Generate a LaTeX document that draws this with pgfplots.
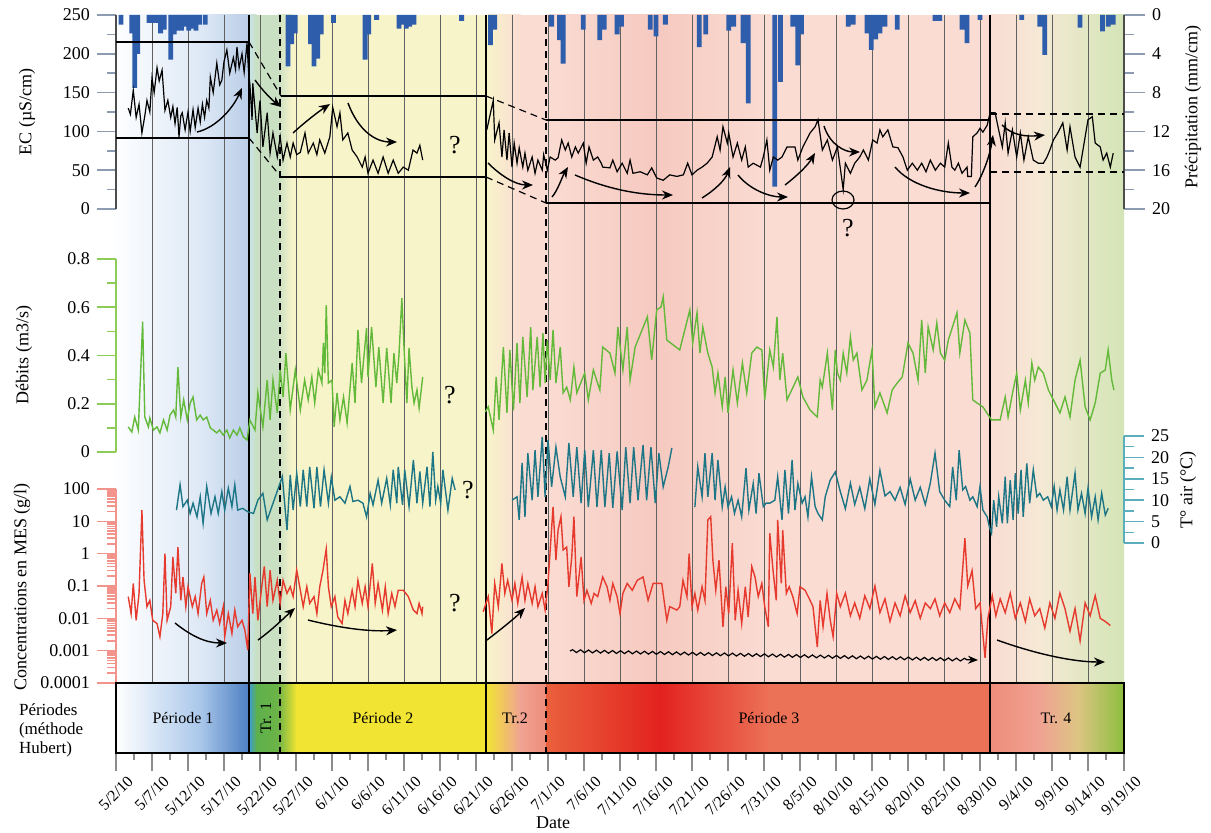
\documentclass[border=0pt]{standalone}
\usepackage{fontspec}
\setmainfont{Liberation Serif}
\usepackage{pgfplots}
\pgfplotsset{compat=1.18}
\usetikzlibrary{arrows.meta,decorations.pathmorphing}

\definecolor{qgreen}{HTML}{63B93A}
\definecolor{tteal}{HTML}{1D7686}
\definecolor{mesred}{HTML}{E63A2E}
\definecolor{rainblue}{HTML}{2E5DAB}
\definecolor{axgreen}{HTML}{8DCC57}
\definecolor{axpink}{HTML}{F2948C}
\definecolor{axteal}{HTML}{5BAEBE}
\definecolor{axgray}{HTML}{8C9BB0}
% plot-area backgrounds
\definecolor{bgA}{HTML}{FDFEFF}
\definecolor{bgB}{HTML}{DCE7F5}
\definecolor{bgC}{HTML}{B8CDE7}
\definecolor{bgD}{HTML}{C8E4EA}
\definecolor{bgE}{HTML}{C9E0C2}
\definecolor{bgY}{HTML}{F8F4CA}
\definecolor{bgP}{HTML}{FADCD3}
\definecolor{bgQ}{HTML}{F6C9BF}
\definecolor{bgR}{HTML}{F5E9D5}
\definecolor{bgG}{HTML}{D3E5B6}
% period bar
\definecolor{pbA}{HTML}{A9C7EA}
\definecolor{pbB}{HTML}{4C7EC2}
\definecolor{pbC}{HTML}{3C9CD2}
\definecolor{pbD}{HTML}{5DB04C}
\definecolor{pbE}{HTML}{6CB447}
\definecolor{pbY}{HTML}{F1E433}
\definecolor{pbS}{HTML}{F0A393}
\definecolor{pbT}{HTML}{EF8C7A}
\definecolor{pbO}{HTML}{E9603C}
\definecolor{pbR}{HTML}{E3221F}
\definecolor{pbL}{HTML}{EC7257}
\definecolor{pbM}{HTML}{DCC583}
\definecolor{pbG}{HTML}{8CBF3E}

\pgfplotsset{
  panel/.style={scale only axis, width=504pt, xmin=0, xmax=140,
    axis x line=none, anchor=south west, tick align=outside,
    major tick length=9.5pt, minor tick length=4.5pt,
    /pgf/number format/assume math mode=true,
    tick label style={font=\fontsize{9}{10}\selectfont}},
}

\begin{document}
\begin{tikzpicture}
\useasboundingbox (0,0) rectangle (605.5pt,416pt);

% ---------- backgrounds (pixel coordinates) ----------
\begin{scope}[x=0.5pt,y=-0.5pt,shift={(0,416pt)}]
  \shade[left color=bgA,right color=bgB] (116,15) rectangle (205.5,683);
  \shade[left color=bgB,right color=bgC] (205,15) rectangle (249.5,683);
  \shade[left color=bgD,right color=bgE] (249,15) rectangle (256.5,683);
  \fill[bgE] (256,15) rectangle (278.5,683);
  \shade[left color=bgE,right color=bgY] (278,15) rectangle (292.5,683);
  \fill[bgY] (292,15) rectangle (486.5,683);
  \shade[left color=bgY,right color=bgP] (486,15) rectangle (520.5,683);
  \fill[bgP] (520,15) rectangle (546.5,683);
  \shade[left color=bgP,right color=bgQ] (546,15) rectangle (655.5,683);
  \shade[left color=bgQ,right color=bgP] (655,15) rectangle (770.5,683);
  \fill[bgP] (770,15) rectangle (990.5,683);
  \shade[left color=bgP,right color=bgR] (990,15) rectangle (1040.5,683);
  \shade[left color=bgR,right color=bgG] (1040,15) rectangle (1124,683);
  % period bar
  \shade[left color=white,right color=pbA] (116,683) rectangle (200.5,753);
  \shade[left color=pbA,right color=pbB] (200,683) rectangle (249.5,753);
  \shade[left color=pbC,right color=pbD] (249,683) rectangle (256.5,753);
  \shade[left color=pbD,right color=pbE] (256,683) rectangle (278.5,753);
  \shade[left color=pbE,right color=pbY] (278,683) rectangle (296.5,753);
  \fill[pbY] (296,683) rectangle (486.5,753);
  \shade[left color=pbY,right color=pbS] (486,683) rectangle (520.5,753);
  \shade[left color=pbS,right color=pbT] (520,683) rectangle (546.5,753);
  \shade[left color=pbO,right color=pbR] (546,683) rectangle (660.5,753);
  \shade[left color=pbR,right color=pbL] (660,683) rectangle (770.5,753);
  \fill[pbL] (770,683) rectangle (990.5,753);
  \shade[left color=pbT,right color=pbS] (990,683) rectangle (1040.5,753);
  \shade[left color=pbS,right color=pbM] (1040,683) rectangle (1078.5,753);
  \shade[left color=pbM,right color=pbG] (1078,683) rectangle (1124,753);
  % 5-day grid lines
  \foreach \d in {5,10,...,135}
    \draw[line width=0.45pt,black!62] ({116+7.2*\d},15) -- ({116+7.2*\d},683);
  % period limits
  \foreach \xx in {249,486,990}
    \draw[line width=0.8pt] (\xx,15) -- (\xx,753);
  \foreach \xx in {280,546}
    \draw[line width=0.7pt,dash pattern=on 3.5pt off 2.5pt] (\xx,15) -- (\xx,753);
\end{scope}

% ---------- precipitation (right, reversed) ----------
\begin{axis}[panel, at={(58pt,311.5pt)}, height=97pt, ymin=0, ymax=20, y dir=reverse,
  axis y line*=right, ytick={0,4,...,20}, minor ytick={2,6,...,18},
  major tick length=10.5pt, minor tick length=5pt,
  y axis line style={black!70,-,line width=0.7pt}, tick style={axgray,line width=0.8pt},
  ybar, bar width=2.4pt]
\addplot[fill=rainblue, draw=none] coordinates {
(0.7,1.0)(2.2,1.9)(2.6,7.5)(3.0,4.0)(4.6,0.8)(5.1,0.8)(5.6,0.8)(6.2,1.9)(6.7,1.5)
(7.6,4.6)(8.1,2.0)(8.6,1.6)(9.1,1.6)(9.6,1.2)(10.1,1.6)(10.6,1.4)(11.1,1.6)(11.6,1.0)
(12.4,1.0)(23.9,5.3)(24.4,3.0)(24.9,1.9)(27.0,3.0)(27.5,5.3)(28.0,4.5)(28.5,2.0)
(30.2,0.8)(34.6,4.6)(35.1,2.0)(36.2,0.5)(39.3,1.4)(39.8,1.0)(40.3,1.4)(40.8,1.2)
(41.4,1.0)(48.0,0.6)(52.0,3.1)(52.6,1.5)(60.5,1.2)(61.6,2.6)(62.1,5.0)(64.9,1.5)
(67.2,2.6)(67.8,1.5)(69.6,2.0)(70.2,1.2)(74.2,1.5)(75.0,2.2)(76.3,1.0)(81.0,3.3)
(81.9,2.0)(85.1,1.6)(85.8,1.2)(87.1,2.9)(87.8,9.1)(91.5,17.7)(92.3,6.9)(94.0,1.2)
(94.7,5.2)(95.2,2.0)(101.7,1.2)(102.4,1.0)(104.3,1.9)(104.9,3.6)(105.5,2.5)
(106.1,1.9)(106.8,1.2)(108.5,1.5)(113.75,0.6)(114.4,0.6)(117.5,1.5)(118.2,2.9)
(120.0,0.5)(125.8,0.5)(128.3,1.2)(129.0,4.1)(133.9,1.3)(137.0,1.7)(137.8,1.2)(138.5,1.0)};
\end{axis}

% ---------- EC ----------
\begin{axis}[panel, at={(58pt,311.5pt)}, height=97pt, ymin=0, ymax=250,
  axis y line*=left, ytick={0,50,...,250}, minor ytick={25,75,...,225},
  y axis line style={black!70,-,line width=0.7pt}, tick style={axgray,line width=0.8pt}]
\addplot[black, line width=0.6pt, mark=none] coordinates {
(1.7,130)(2.0,122)(2.4,153)(2.8,118)(3.2,135)(3.6,98)(4.0,120)(4.3,140)(4.7,125)
(5.0,169)(5.3,150)(5.7,182)(6.0,165)(6.4,179)(6.8,127)(7.2,140)(7.6,118)(7.9,132)
(8.2,110)(8.5,131)(8.75,93)(9.0,120)(9.2,124)(9.6,102)(10.0,125)(10.3,100)(10.7,128)
(11.0,105)(11.4,130)(11.7,112)(12.0,135)(12.3,118)(12.6,140)(12.9,130)(13.1,170)
(13.5,150)(14.0,188)(14.4,160)(14.7,166)(15.0,190)(15.4,205)(15.8,175)(16.3,195)
(16.6,180)(16.8,209)(17.1,182)(17.5,200)(17.8,176)(18.2,214)(18.4,179)
(18.6,160)(18.9,115)(19.0,162)(19.6,98)(20.0,140)(20.4,80)(21.0,124)(21.4,72)
(21.8,98)(22.4,67)(22.8,93)(23.2,63)(23.75,85)(24.2,67)(24.6,85)(25.1,70)(25.6,73)
(26.25,98)(26.7,72)(27.4,85)(27.9,70)(28.3,89)(29.0,72)(29.7,93)(30.1,131)(30.7,106)
(31.1,124)(31.5,89)(32.2,98)(32.8,76)(33.5,67)(34.2,54)(34.6,67)(35.0,46)(35.7,63)
(36.4,46)(37.1,67)(37.8,46)(38.5,63)(39.2,46)(39.9,54)(40.6,50)(41.25,76)(41.8,72)
(42.2,82)(42.6,63)};
\addplot[black, line width=0.6pt, mark=none] coordinates {
(51.5,102)(52.4,140)(52.6,89)(53.2,111)(53.6,67)(53.9,102)(54.3,63)(54.6,98)(55.0,54)
(55.3,85)(55.7,59)(56.0,79)(56.5,54)(56.8,72)(57.2,50)(57.8,67)(58.2,46)(58.6,63)
(59.2,50)(59.4,70)(59.9,50)(60.3,67)(61.0,63)(61.4,66)(61.9,89)(62.4,76)(62.8,85)
(63.3,67)(63.8,80)(64.2,72)(64.9,85)(65.3,59)(65.7,80)(66.3,63)(66.9,67)(67.4,59)
(67.6,54)(68.6,53)(69.0,63)(69.6,48)(70.3,59)(71.0,46)(71.4,63)(71.8,46)(72.8,48)
(73.8,44)(74.4,53)(75.1,40)(76.0,37)(76.9,44)(77.9,42)(78.8,44)(79.4,59)(80.0,44)
(80.7,50)(81.4,54)(82.1,59)(82.8,67)(83.5,93)(83.9,76)(84.3,106)(84.9,85)(85.1,98)
(85.7,67)(86.3,85)(86.9,63)(87.4,80)(87.8,54)(88.5,59)(89.5,54)(89.9,67)(90.4,89)
(90.8,50)(91.3,67)(91.9,63)(92.5,67)(93.2,80)(94.3,80)(94.7,63)(95.4,80)(96.4,98)
(97.1,106)(97.5,115)(98.1,76)(98.8,89)(99.5,63)(100.2,80)(101.0,25)(101.3,59)
(102.0,46)(102.6,59)(103.3,67)(103.8,76)(104.5,63)(105.1,89)(105.7,85)(106.1,102)
(106.5,93)(107.2,102)(107.9,80)(108.6,79)(109.3,67)(109.9,50)(110.6,59)(111.3,50)
(111.9,59)(112.5,48)(113.1,63)(113.8,50)(114.5,59)(115.1,54)(115.6,85)(116.1,54)
(116.5,50)(117.0,59)(117.5,46)(118.2,54)(118.3,42)(118.8,42)(119.0,93)(119.6,98)
(120.0,104)(120.4,99)(121.0,108)(121.4,124)(122.1,124)(122.5,106)(123.1,80)(123.5,111)
(123.9,72)(124.5,102)(125.1,67)(125.6,98)(126.1,63)(126.7,93)(127.4,63)(128.1,59)
(128.8,59)(129.3,67)(129.7,76)(130.2,89)(130.8,98)(131.5,111)(132.1,76)(132.5,106)
(133.2,67)(133.9,54)(134.3,76)(135.0,115)(135.6,119)(136.0,85)(136.7,80)(137.1,63)
(137.6,72)(138.1,54)(138.5,72)};
\end{axis}

% ---------- Debits ----------
\begin{axis}[panel, at={(58pt,190pt)}, height=96.5pt, ymin=0, ymax=0.8,
  axis y line*=left, ytick={0,0.2,...,0.8}, minor ytick={0.1,0.3,0.5,0.7},
  yticklabels={0,0.2,0.4,0.6,0.8},
  y axis line style={axgreen,-,line width=0.8pt}, tick style={axgreen,line width=0.8pt}]
\addplot[qgreen, line width=0.7pt, mark=none] coordinates {
(1.7,0.104)(2.2,0.083)(2.6,0.145)(3.1,0.091)(3.7,0.54)(4.0,0.145)(4.5,0.104)(4.7,0.141)
(5.2,0.091)(5.7,0.104)(6.1,0.079)(6.6,0.133)(7.1,0.091)(7.5,0.153)(8.0,0.174)(8.3,0.145)
(8.6,0.352)(9.0,0.145)(9.4,0.216)(9.9,0.133)(10.3,0.203)(10.7,0.228)(11.2,0.133)
(11.7,0.153)(12.1,0.133)(12.6,0.145)(13.1,0.10)(13.5,0.091)(14.0,0.079)(14.4,0.091)
(14.9,0.07)(15.4,0.091)(15.8,0.058)(16.3,0.091)(16.8,0.07)(17.2,0.10)(17.7,0.062)(18.2,0.05)
(18.6,0.133)(19.3,0.091)(19.7,0.245)(20.4,0.104)(21.0,0.298)(21.4,0.133)(21.8,0.298)
(22.4,0.162)(22.8,0.34)(23.2,0.228)(23.6,0.41)(24.2,0.174)(24.9,0.34)(25.6,0.174)
(26.2,0.298)(26.7,0.216)(27.2,0.311)(27.6,0.203)(28.1,0.34)(28.6,0.286)(28.8,0.452)
(29.0,0.327)(29.2,0.609)(29.5,0.286)(30.0,0.298)(30.3,0.104)(30.7,0.245)(31.1,0.133)
(31.6,0.228)(32.1,0.12)(32.8,0.369)(33.2,0.203)(33.6,0.506)(34.1,0.286)(34.8,0.514)
(35.0,0.311)(35.5,0.518)(36.1,0.269)(36.5,0.435)(37.1,0.203)(37.6,0.431)(38.2,0.203)
(38.6,0.41)(39.0,0.286)(39.3,0.402)(39.7,0.638)(40.0,0.435)(40.4,0.203)(40.7,0.431)
(41.1,0.269)(41.4,0.203)(41.8,0.257)(42.1,0.182)(42.6,0.311)};
\addplot[qgreen, line width=0.7pt, mark=none] coordinates {
(51.3,0.166)(51.7,0.187)(52.4,0.091)(52.8,0.311)(53.2,0.133)(53.8,0.435)(54.3,0.162)
(54.7,0.423)(55.2,0.174)(55.7,0.452)(56.1,0.203)(56.5,0.477)(57.1,0.228)(57.6,0.518)
(57.9,0.257)(58.5,0.477)(58.9,0.269)(59.3,0.493)(59.6,0.286)(59.9,0.464)(60.3,0.298)
(60.7,0.506)(61.1,0.286)(61.7,0.435)(62.1,0.245)(62.6,0.269)(63.1,0.216)(63.6,0.352)
(64.0,0.245)(64.7,0.298)(65.1,0.327)(65.6,0.216)(66.3,0.34)(67.2,0.257)(67.6,0.435)
(68.6,0.41)(69.3,0.327)(69.7,0.518)(70.4,0.34)(71.0,0.518)(71.4,0.298)(72.1,0.435)
(73.8,0.56)(74.4,0.381)(75.1,0.589)(75.7,0.601)(76.0,0.643)(76.5,0.464)(78.3,0.423)
(79.7,0.589)(80.1,0.452)(80.7,0.577)(81.1,0.41)(81.5,0.518)(82.2,0.41)(82.8,0.352)
(83.2,0.245)(83.6,0.327)(84.2,0.187)(84.6,0.311)(85.0,0.162)(85.7,0.34)(86.3,0.203)
(87.0,0.369)(87.6,0.245)(88.3,0.41)(89.0,0.435)(89.7,0.423)(90.1,0.216)(90.8,0.423)
(91.3,0.352)(91.8,0.56)(92.2,0.298)(92.6,0.41)(93.2,0.216)(94.7,0.311)(95.4,0.228)
(96.4,0.174)(97.4,0.145)(97.8,0.298)(98.1,0.269)(98.8,0.41)(99.5,0.174)(99.9,0.423)
(100.2,0.327)(100.6,0.298)(101.0,0.41)(101.5,0.327)(102.0,0.477)(102.4,0.381)
(102.9,0.41)(103.6,0.257)(104.3,0.298)(105.0,0.423)(105.4,0.187)(106.1,0.245)
(107.1,0.162)(107.8,0.257)(108.5,0.286)(109.2,0.311)(110.0,0.452)(110.7,0.41)
(111.4,0.298)(111.9,0.547)(112.4,0.327)(112.8,0.518)(113.5,0.423)(114.0,0.535)
(114.5,0.41)(115.1,0.381)(115.6,0.464)(116.8,0.577)(117.2,0.41)(117.9,0.547)
(118.6,0.493)(119.0,0.216)(119.6,0.203)(120.4,0.187)(121.6,0.133)(122.8,0.133)
(123.5,0.228)(123.9,0.145)(124.6,0.257)(125.1,0.327)(125.6,0.174)(126.3,0.298)
(126.7,0.203)(127.2,0.369)(127.6,0.298)(128.1,0.352)(128.8,0.327)(129.5,0.257)
(130.2,0.216)(131.1,0.162)(131.8,0.228)(132.5,0.145)(133.2,0.298)(133.9,0.381)
(134.6,0.187)(135.3,0.133)(136.0,0.203)(136.7,0.327)(137.4,0.34)(137.8,0.423)
(138.3,0.298)(138.6,0.257)};
\end{axis}

% ---------- T air (right) ----------
\begin{axis}[panel, at={(58pt,144.5pt)}, height=53.5pt, ymin=0, ymax=25,
  axis y line*=right, ytick={0,5,...,25}, minor ytick={2.5,7.5,...,22.5},
  major tick length=10pt, minor tick length=5pt,
  y axis line style={axteal,-,line width=0.8pt}, tick style={axteal,line width=0.8pt}]
\addplot[tteal, line width=0.7pt, mark=none] coordinates {
(8.4,7.7)(8.9,13.6)(9.3,8.5)(9.9,10.0)(10.3,6.9)(10.7,9.3)(11.25,6.1)(11.7,10.8)
(12.1,4.6)(12.6,13.2)(13.2,6.9)(13.75,10.8)(14.2,6.9)(14.7,12.0)(15.1,7.7)(15.6,12.8)
(16.1,8.5)(16.5,13.6)(16.9,7.7)(17.6,8.1)(18.3,7.3)(19.1,6.9)(19.7,10.0)(20.4,11.6)
(21.0,5.4)(23.1,15.5)(23.75,3.0)(24.2,15.9)(24.6,7.7)(25.1,16.3)(25.6,8.5)(26.0,17.1)
(26.5,8.5)(26.9,17.8)(27.5,8.1)(27.9,17.8)(28.4,8.5)(28.9,17.1)(29.5,9.3)(29.9,15.4)
(30.4,10.0)(31.1,10.8)(31.8,9.3)(32.5,13.2)(32.9,9.7)(33.6,10.0)(34.3,9.3)(34.8,6.1)
(35.3,11.6)(35.7,8.9)(36.4,14.7)(36.9,9.3)(37.6,15.1)(38.1,8.9)(38.5,17.1)(39.0,9.3)
(39.2,17.8)(39.8,8.9)(40.1,17.1)(40.7,8.5)(41.3,19.4)(41.8,9.3)(42.2,16.7)(42.6,9.3)
(43.2,17.8)(43.6,8.5)(44.0,21.3)(44.4,10.0)(44.7,13.2)(45.1,9.3)(45.4,17.1)(46.1,7.7)
(46.7,15.1)(47.1,12.4)};
\addplot[tteal, line width=0.7pt, mark=none] coordinates {
(55.0,10.0)(55.7,10.8)(56.0,5.4)(56.4,18.7)(56.8,6.1)(57.2,21.0)(57.8,10.0)(58.2,21.7)
(58.6,10.8)(59.2,24.8)(59.6,10.8)(60.0,24.1)(60.5,13.1)(61.1,22.4)(61.7,15.4)(62.4,10.8)
(62.9,23.4)(63.5,10.8)(64.0,22.4)(64.6,9.3)(65.1,21.7)(65.6,8.4)(66.3,21.7)(66.8,8.4)
(67.4,21.7)(67.9,8.4)(68.5,21.0)(69.0,8.2)(69.6,21.4)(70.3,7.7)(70.8,22.4)(71.4,9.3)
(71.9,22.4)(72.5,10.0)(73.2,22.9)(73.7,10.0)(74.3,22.4)(74.9,9.3)(75.4,21.0)(76.0,13.1)
(76.7,17.8)(77.2,22.2)};
\addplot[tteal, line width=0.7pt, mark=none] coordinates {
(80.4,8.4)(80.8,17.8)(81.4,10.8)(81.8,21.0)(82.2,10.8)(82.8,21.0)(83.2,10.0)(83.6,19.4)
(84.2,8.4)(84.6,13.1)(85.0,8.4)(85.5,10.8)(85.9,6.9)(86.4,10.0)(86.9,6.1)(87.5,17.5)
(87.9,7.7)(88.5,13.9)(88.9,6.9)(89.3,16.3)(89.9,8.5)(90.3,9.3)(90.8,9.3)(91.5,10.0)
(91.9,15.5)(92.5,5.4)(92.9,17.1)(93.4,6.9)(93.9,19.4)(94.3,7.7)(94.7,13.9)(95.3,9.3)
(95.7,10.8)(96.1,6.1)(96.6,15.5)(97.1,8.5)(97.5,6.9)(98.1,5.4)(98.5,10.8)(99.2,14.7)
(99.9,16.6)(100.6,12)(101.3,8)(102,14)(102.6,9)(103.3,13)(104,8)(104.7,15)(105.4,9)
(106.1,17)(106.8,11)(107.5,12)(108.2,10)(108.9,13)(109.6,9)(110.3,15)(111,10)
(111.7,13)(112.4,9)(113.1,14)(113.75,21)(114.4,12)(115.1,10)(115.8,8.5)(116.2,17.8)
(116.7,10.0)(117.1,21.7)(117.6,12.4)(118.0,13.2)(118.6,10.0)(119.0,10.8)(119.6,8.5)
(120.0,13.2)(120.4,7.7)(121.0,6.1)(121.3,3.8)(121.6,2.3)(121.9,10.0)(122.3,3.8)
(122.6,10.8)(123.1,4.6)(123.5,15.5)(123.8,4.6)(124.2,14.7)(124.6,5.4)(124.9,16.3)
(125.3,6.9)(125.7,17.1)(126.0,6.1)(126.5,18.6)(126.9,9.3)(127.4,17.1)(127.9,10.8)
(128.3,11.6)(128.8,10.0)(129.4,10.8)(129.9,8.5)(130.3,13.2)(130.7,7.7)(131.1,12.4)
(131.6,7.7)(132.1,15.5)(132.5,7.7)(133.2,16.3)(133.6,7.7)(134.1,11.6)(134.6,6.9)
(135.0,12.8)(135.5,6.1)(136.0,10.8)(136.4,5.4)(136.9,11.6)(137.4,6.5)(137.8,8.1)};
\end{axis}

% ---------- MES (log) ----------
\begin{axis}[panel, at={(58pt,74.5pt)}, height=97pt, ymode=log, ymin=1e-4, ymax=100,
  axis y line*=left,
  ytick={1e-4,1e-3,1e-2,1e-1,1,10,100},
  yticklabels={0.0001,0.001,0.01,0.1,1,10,100},
  minor ytick={2e-4,3e-4,4e-4,5e-4,6e-4,7e-4,8e-4,9e-4,2e-3,3e-3,4e-3,5e-3,6e-3,7e-3,8e-3,9e-3,
    0.02,0.03,0.04,0.05,0.06,0.07,0.08,0.09,0.2,0.3,0.4,0.5,0.6,0.7,0.8,0.9,
    2,3,4,5,6,7,8,9,20,30,40,50,60,70,80,90},
  y axis line style={axpink,-,line width=0.8pt}, tick style={axpink,line width=0.8pt}]
\addplot[mesred, line width=0.7pt, mark=none] coordinates {
(1.7,0.047)(2.1,0.014)(2.4,0.12)(2.8,0.0087)(3.2,0.059)(3.6,22)(3.9,0.15)(4.3,0.023)
(4.7,0.036)(5.1,0.0087)(5.7,0.0069)(6.1,0.0027)(6.5,0.014)(6.8,1.0)(7.1,0.0087)
(7.6,0.023)(7.9,0.79)(8.3,0.059)(8.6,1.6)(9.0,0.036)(9.3,0.19)(9.7,0.023)(10.0,0.095)
(10.6,0.023)(11.0,0.047)(11.4,0.014)(11.9,0.12)(12.2,0.19)(12.6,0.014)(13.1,0.036)
(13.5,0.0087)(14.0,0.018)(14.4,0.0069)(14.9,0.023)(15.1,0.0027)(15.6,0.014)(16.1,0.0034)
(16.5,0.018)(16.9,0.0055)(17.5,0.0087)(17.9,0.0043)(18.3,0.00105)
(18.6,0.25)(19.0,0.014)(19.3,0.19)(19.7,0.0087)(20.3,0.12)(20.6,0.40)(21.0,0.023)
(21.4,0.31)(21.8,0.036)(22.4,0.15)(22.8,0.029)(23.2,0.15)(23.75,0.059)(24.2,0.095)
(24.6,0.047)(25.1,0.31)(25.6,0.074)(26.0,0.023)(26.5,0.095)(26.9,0.029)(27.5,0.047)
(27.9,0.014)(28.3,0.095)(28.75,0.31)(29.2,1.4)(29.5,0.095)(29.9,0.023)(30.4,0.047)
(30.8,0.011)(31.4,0.0069)(31.8,0.036)(32.2,0.014)(32.8,0.074)(33.2,0.023)(33.6,0.15)
(34.2,0.029)(34.6,0.095)(35.0,0.023)(35.6,0.50)(36.0,0.029)(36.4,0.12)(37.0,0.018)
(37.4,0.095)(37.8,0.014)(38.3,0.059)(38.75,0.023)(39.2,0.074)(39.9,0.074)(40.6,0.047)
(41.3,0.018)(41.8,0.014)(42.1,0.029)(42.5,0.014)(42.6,0.023)};
\addplot[mesred, line width=0.7pt, mark=none] coordinates {
(51.0,0.016)(51.7,0.047)(52.2,0.0034)(52.6,0.12)(53.1,0.023)(53.6,0.50)(54.0,0.059)
(54.4,0.15)(55.0,0.036)(55.4,0.12)(55.8,0.029)(56.4,0.19)(56.8,0.036)(57.2,0.12)
(57.8,0.029)(58.2,0.095)(58.6,0.023)(59.2,0.059)(59.6,0.018)(60.0,0.12)(60.7,28)
(61.1,0.63)(61.4,5.4)(61.8,14)(62.1,1.3)(62.6,1.6)(62.9,0.095)(63.3,0.79)(63.6,14)
(64.0,0.047)(64.6,0.79)(65.0,0.036)(65.4,0.074)(66.0,0.029)(66.4,0.059)(66.9,0.047)
(67.6,0.19)(68.2,0.095)(68.6,0.036)(69.0,0.12)(69.6,0.047)(70.0,0.014)(70.4,0.059)
(71.0,0.12)(71.7,0.074)(72.4,0.15)(73.2,0.19)(73.9,0.036)(74.6,0.12)(75.3,0.12)
(75.8,0.12)(76.5,0.0087)(76.9,0.023)(77.9,0.018)(78.3,0.023)(78.75,0.15)(79.3,0.047)
(79.6,1.0)(80.0,0.023)(80.4,0.059)(80.8,0.018)(81.4,0.095)(81.8,0.036)(82.2,11)
(82.6,14)(82.9,0.63)(83.3,0.074)(83.75,0.63)(84.3,0.0055)(84.7,0.095)(85.1,0.014)
(85.6,2.1)(86.0,0.0087)(86.4,0.074)(86.9,0.0069)(87.4,0.095)(87.8,0.011)(88.3,0.40)
(88.75,0.19)(89.2,0.047)(89.7,0.12)(90.1,0.023)(90.6,0.0055)(90.8,4.3)(91.25,0.31)
(91.7,0.036)(91.9,11)(92.4,0.12)(92.6,5.4)(93.1,0.059)(93.5,0.095)(94.0,0.047)
(94.6,0.014)(95.0,0.095)(95.7,0.074)(96.4,0.036)(96.8,0.023)(97.4,0.0013)(97.8,0.036)
(98.2,0.0055)(98.75,0.059)(99.2,0.0087)(99.6,0.0027)(100.1,0.059)(100.6,0.023)
(101.3,0.06)(102.0,0.012)(102.6,0.03)(103.3,0.01)(104.0,0.05)(104.7,0.02)(105.4,0.1)
(106.1,0.015)(106.8,0.04)(107.5,0.008)(108.2,0.03)(108.9,0.012)(109.6,0.05)(110.3,0.015)
(111.0,0.035)(111.7,0.01)(112.4,0.03)(113.1,0.02)(113.75,0.04)(114.4,0.012)(115.1,0.03)
(115.8,0.015)(116.5,0.04)(117.2,0.02)(117.9,3.0)(118.3,0.1)(118.9,0.3)(119.4,0.02)
(120.0,0.03)(120.7,0.0006)(121.1,0.01)(121.7,0.05)(122.2,0.012)(122.8,0.04)(123.5,0.015)
(124.2,0.06)(124.9,0.01)(125.6,0.03)(126.3,0.008)(126.9,0.04)(127.6,0.012)(128.3,0.02)
(129.0,0.005)(129.7,0.03)(130.4,0.01)(131.1,0.06)(131.8,0.02)(132.5,0.004)(133.2,0.02)
(133.9,0.002)(134.6,0.03)(135.3,0.012)(136.0,0.05)(136.7,0.01)(137.4,0.008)(138.1,0.006)};
\end{axis}

% ---------- period bar with date axis ----------
\begin{axis}[scale only axis, width=504pt, height=35pt, at={(58pt,39.5pt)}, anchor=south west,
  xmin=0, xmax=140, ymin=0, ymax=1, ytick=\empty,
  axis line style={black,line width=0.8pt},
  xtick={0,5,...,140}, minor x tick num=1, xtick pos=left, tick align=outside,
  major tick length=9pt, minor tick length=3.5pt, tick style={black!45,line width=0.7pt},
  xticklabels={5/2/10,5/7/10,5/12/10,5/17/10,5/22/10,5/27/10,6/1/10,6/6/10,6/11/10,
    6/16/10,6/21/10,6/26/10,7/1/10,7/6/10,7/11/10,7/16/10,7/21/10,7/26/10,7/31/10,
    8/5/10,8/10/10,8/15/10,8/20/10,8/25/10,8/30/10,9/4/10,9/9/10,9/14/10,9/19/10},
  xticklabel style={font=\fontsize{8}{8}\selectfont, inner sep=1pt, xshift=8pt, yshift=-3pt, rotate=45, anchor=east}]
\addplot[draw=none] coordinates {(0,0)};
\end{axis}

% ---------- annotations (pixel coordinates) ----------
\begin{scope}[x=0.5pt,y=-0.5pt,shift={(0,416pt)}]
  \tikzset{arr/.style={line width=0.7pt,-{Stealth[length=5.5pt,width=4.5pt]}},
           dsh/.style={line width=0.6pt,dash pattern=on 3.5pt off 2.5pt}}
  % envelope boxes on EC
  \draw[line width=0.6pt] (116,42) -- (249,42) (116,138) -- (249,138);
  \draw[dsh] (249,42) -- (281,96) (249,138) -- (281,177);
  \draw[line width=0.6pt] (281,96) -- (486,96) (281,177) -- (486,177);
  \draw[dsh] (486,96) -- (546,120) (486,177) -- (546,203);
  \draw[line width=0.6pt] (546,120) -- (990,120) (546,203) -- (990,203);
  \draw[dsh] (990,114) -- (1124,114) (990,172) -- (1124,172);
  \draw[line width=0.6pt] (843,200) ellipse [x radius=11, y radius=9];
  % arrows on EC
  \draw[arr] (197,132) .. controls (215,128) and (232,110) .. (242,88);
  \draw[arr] (255,80) .. controls (262,90) and (272,100) .. (281,107);
  \draw[arr] (293,133) .. controls (305,122) and (318,112) .. (330,104);
  \draw[arr] (348,103) .. controls (358,130) and (375,142) .. (397,142);
  \draw[arr] (488,163) .. controls (500,175) and (515,185) .. (533,185);
  \draw[arr] (552,197) .. controls (558,190) and (562,177) .. (568,167);
  \draw[arr] (575,175) .. controls (610,190) and (640,195) .. (673,195);
  \draw[arr] (702,198) .. controls (715,190) and (725,180) .. (730,167);
  \draw[arr] (738,175) .. controls (750,190) and (770,197) .. (788,197);
  \draw[arr] (785,185) .. controls (798,175) and (808,165) .. (815,153);
  \draw[arr] (824,126) .. controls (830,145) and (845,152) .. (860,152);
  \draw[arr] (895,167) .. controls (910,185) and (940,193) .. (970,193);
  \draw[arr] (975,187) .. controls (983,175) and (990,155) .. (993,135);
  \draw[arr] (1002,125) .. controls (1012,135) and (1025,137) .. (1045,135);
  % arrows on MES
  \draw[arr] (175,623) .. controls (190,635) and (205,643) .. (227,643);
  \draw[arr] (258,640) .. controls (272,630) and (285,617) .. (295,608);
  \draw[arr] (308,620) .. controls (340,628) and (370,632) .. (397,630);
  \draw[arr] (487,640) .. controls (500,630) and (515,618) .. (525,608);
  \draw[arr] (997,640) .. controls (1030,652) and (1070,662) .. (1105,662);
  \draw[line width=0.6pt,-{Stealth[length=5pt,width=4pt]},decorate,
        decoration={snake,amplitude=0.7pt,segment length=4pt,post length=4pt}]
        (570,651) -- (978,660);
  % question marks
  \foreach \p in {(455,145),(450,395),(468,490),(455,603),(848,228)}
    \node[font=\fontsize{13}{13}\selectfont] at \p {?};
  % axis titles
  \node[rotate=90,font=\fontsize{9}{10}\selectfont] at (27,112) {EC (µS/cm)};
  \node[rotate=90,font=\fontsize{9}{10}\selectfont] at (24,355) {Débits (m3/s)};
  \node[rotate=90,font=\fontsize{9}{10}\selectfont] at (22,587) {Concentrations en MES (g/l)};
  \node[rotate=90,font=\fontsize{9}{10}\selectfont] at (1193,107) {Précipitation (mm/cm)};
  \node[rotate=90,font=\fontsize{9}{10}\selectfont] at (1188,490) {T° air (°C)};
  \node[font=\fontsize{9}{10}\selectfont] at (553,823) {Date};
  % period bar texts
  \node[anchor=north west,align=left,font=\fontsize{8.5}{9.5}\selectfont] at (12,697)
    {Périodes\\(méthode\\Hubert)};
  \node[font=\fontsize{8}{9}\selectfont] at (183,718) {Période 1};
  \node[rotate=90,font=\fontsize{8}{9}\selectfont] at (266,718) {Tr. 1};
  \node[font=\fontsize{8}{9}\selectfont] at (383,718) {Période 2};
  \node[font=\fontsize{8}{9}\selectfont] at (515,718) {Tr.2};
  \node[font=\fontsize{8}{9}\selectfont] at (769,718) {Période 3};
  \node[font=\fontsize{8}{9}\selectfont] at (1056,718) {Tr. 4};
\end{scope}
\end{tikzpicture}
\end{document}
